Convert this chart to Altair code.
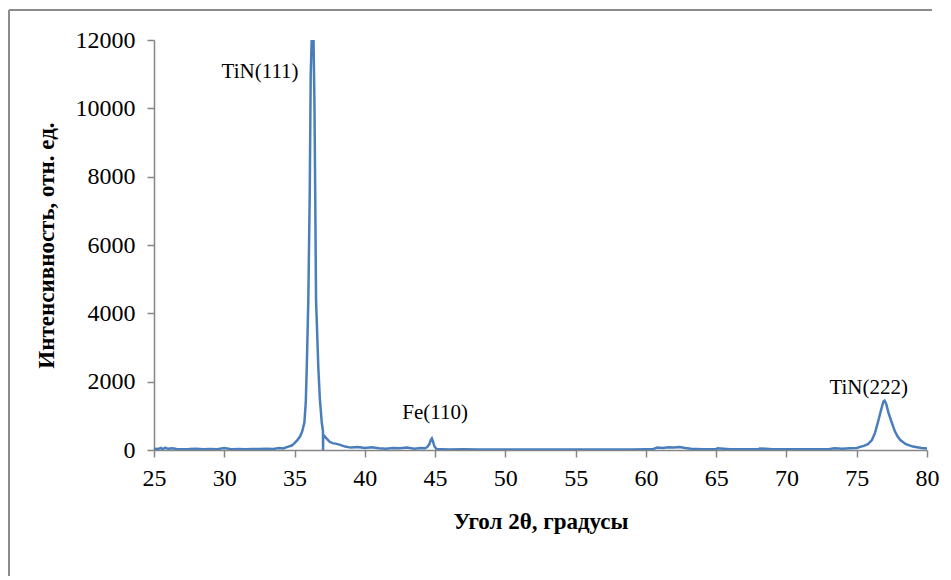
import altair as alt
import pandas as pd

# XRD pattern (2theta in degrees, intensity in rel. units)
angle = [25.0, 25.3, 25.5, 25.6, 25.8, 26.0, 26.3, 26.6, 27.0, 27.5, 28.0, 28.5, 29.0, 29.5,
         30.0, 30.5, 31.0, 31.5, 32.0, 32.5, 33.0, 33.5, 33.9, 34.2, 34.5, 34.8, 35.0, 35.2,
         35.4, 35.55, 35.7, 35.8, 35.87, 35.98, 36.08, 36.15, 36.22, 36.35, 36.42, 36.48,
         36.53, 36.69, 36.8, 36.94, 37.02, 37.03, 37.04, 37.15, 37.29, 37.5, 37.7, 38.0,
         38.24, 38.6, 39.0, 39.5, 40.0, 40.5, 41.0, 41.5, 42.0, 42.5, 43.0, 43.5, 44.0,
         44.3, 44.45, 44.6, 44.7, 44.77, 44.85, 44.95, 45.1, 45.5, 46.0, 47.0, 48.0, 49.0,
         50.0, 51.0, 52.0, 53.0, 54.0, 55.0, 56.0, 57.0, 58.0, 59.0, 60.0, 60.5, 60.8,
         61.2, 61.6, 62.0, 62.4, 62.8, 63.2, 64.0, 65.0, 65.1, 66.0, 67.0, 68.0, 68.1,
         69.0, 70.0, 71.0, 72.0, 73.0, 73.4, 74.0, 74.5, 75.0, 75.25, 75.5, 75.8, 76.08,
         76.3, 76.55, 76.75, 76.9, 76.98, 77.1, 77.25, 77.43, 77.7, 77.9, 78.1, 78.5,
         79.0, 79.3, 79.6, 80.0]
intensity = [40, 30, 60, 20, 70, 35, 50, 30, 25, 30, 40, 25, 30, 25,
             60, 25, 30, 25, 30, 30, 35, 30, 60, 45, 90, 130, 200, 290,
             400, 550, 800, 1400, 2430, 4390, 7500, 11000, 12000, 12000, 10000, 7000,
             4390, 2430, 1500, 790, 560, -30, 450, 400, 330, 240, 200, 180,
             150, 100, 70, 90, 60, 80, 50, 40, 60, 50, 70, 40, 60,
             50, 90, 180, 300, 340, 250, 110, 25, 20, 15, 20, 15, 15,
             15, 15, 15, 15, 15, 15, 15, 15, 15, 15, 20, 25, 70,
             60, 80, 70, 90, 60, 40, 20, 25, 50, 20, 20, 20, 45,
             20, 20, 20, 20, 25, 50, 40, 50, 60, 90, 120, 170, 290,
             500, 878, 1200, 1420, 1443, 1350, 1100, 878, 560, 400, 290, 170,
             100, 80, 60, 40]

# Peak labels
labels = ["TiN(111)", "Fe(110)", "TiN(222)"]
label_angle = [32.55, 45.0, 75.85]
label_intensity = [11050, 1080, 1810]

df = pd.DataFrame({"angle": angle, "intensity": intensity})
lab = pd.DataFrame({"label": labels, "angle": label_angle, "intensity": label_intensity})

serif = "Liberation Serif"

x_enc = alt.X("angle:Q",
              scale=alt.Scale(domain=[25, 80], nice=False, zero=False),
              axis=alt.Axis(values=list(range(25, 81, 5)), title="Угол 2θ, градусы",
                            format="d", titlePadding=20, labelPadding=9, tickSize=7,
                            labelFlush=False))
y_enc = alt.Y("intensity:Q",
              scale=alt.Scale(domain=[0, 12000], nice=False, clamp=True),
              axis=alt.Axis(values=list(range(0, 12001, 2000)), format="d",
                            title="Интенсивность, отн. ед.",
                            titlePadding=17, labelPadding=12, tickSize=7,
                            labelFlush=False))

line = alt.Chart(df).mark_line(color="#4A7EBB", strokeWidth=2.5, clip=True).encode(
    x=x_enc, y=y_enc
)

text = alt.Chart(lab).mark_text(font=serif, fontSize=21, color="black").encode(
    x="angle:Q", y="intensity:Q", text="label:N"
)

one = pd.DataFrame({"a": [0]})
frame_left = alt.Chart(one).mark_rule(color="#8C8C8C", strokeWidth=2).encode(
    x=alt.value(-145), y=alt.value(-30), y2=alt.value(536)
)
frame_top = alt.Chart(one).mark_rule(color="#8C8C8C", strokeWidth=2).encode(
    x=alt.value(-145), x2=alt.value(778), y=alt.value(-30)
)

chart = alt.layer(frame_left, frame_top, line, text).properties(
    width=773, height=410,
    padding={"left": 0, "top": 1, "right": 0, "bottom": 0},
).configure_view(stroke=None).configure_axis(
    grid=False,
    domainColor="#868686", tickColor="#868686", domainWidth=1.5, tickWidth=1.5,
    labelFont=serif, labelFontSize=24, labelColor="black",
    titleFont=serif, titleFontSize=23, titleFontWeight="bold", titleColor="black",
)

chart.save("out.html", embed_options={"renderer": "svg", "actions": False})
